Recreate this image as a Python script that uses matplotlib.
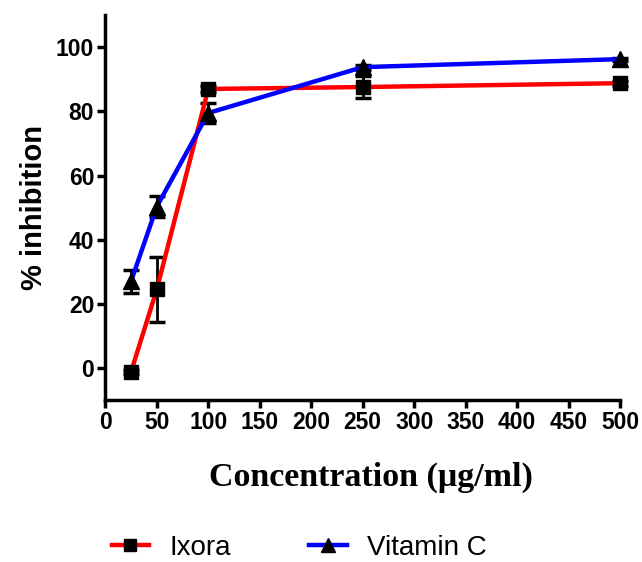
import numpy as np
import matplotlib
matplotlib.use("Agg")
from matplotlib import pyplot as plt

conc = [25, 50, 100, 250, 500]
ixora = [-1.2, 24.5, 87.0, 87.6, 88.8]
ixora_err = [0.5, 10.0, 1.0, 3.5, 0.8]
vitc = [27.0, 50.3, 79.5, 93.8, 96.3]
vitc_err = [3.5, 3.2, 3.0, 0.8, 0.5]
xticks = np.arange(0, 501, 50)
yticks = np.arange(0, 101, 20)

fig = plt.figure(figsize=(6.42, 5.62), dpi=100)
ax = fig.add_axes([0.164, 0.288, 0.802, 0.685])

# error bars first, lines and markers on top
ax.errorbar(conc, ixora, yerr=ixora_err, fmt='none', ecolor='black', elinewidth=2,
            capsize=6, capthick=2.5, clip_on=False, zorder=2)
ax.errorbar(conc, vitc, yerr=vitc_err, fmt='none', ecolor='black', elinewidth=2,
            capsize=6, capthick=2.5, clip_on=False, zorder=2)
l1, = ax.plot(conc, ixora, color='#ff0000', linewidth=3.2, marker='s', markersize=10,
              markerfacecolor='black', markeredgecolor='black', clip_on=False, zorder=3)
l2, = ax.plot(conc, vitc, color='#0000ff', linewidth=3.2, marker='^', markersize=11,
              markerfacecolor='black', markeredgecolor='black', clip_on=False, zorder=4)

ax.set_xlim(0, 500)
ax.set_ylim(-10, 110)
ax.set_xticks(xticks)
ax.set_yticks(yticks)
for s in ['top', 'right']:
    ax.spines[s].set_visible(False)
for s in ['left', 'bottom']:
    ax.spines[s].set_linewidth(2.5)
ax.tick_params(axis='both', width=2.5, length=6, direction='out', pad=2)
for lab in ax.get_xticklabels() + ax.get_yticklabels():
    lab.set_fontfamily('Liberation Sans')
    lab.set_fontweight('bold')
    lab.set_fontsize(16.5)

ax.set_ylabel('% inhibition', fontsize=21, fontweight='bold', family='Liberation Sans', labelpad=6)
ax.set_xlabel('Concentration (\u03bcg/ml)', fontsize=24.5, fontweight='bold',
              family='Liberation Serif', labelpad=20)
ax.xaxis.label.set_x(0.515)

leg = ax.legend([l1, l2], ['Ixora', 'Vitamin C'], loc='center',
                bbox_to_anchor=(0.377, -0.384), ncol=2, frameon=False,
                prop={'family': 'Liberation Sans', 'size': 20}, handlelength=1.35,
                columnspacing=2.8, handletextpad=0.75, markerscale=0.9)

fig.savefig('out.png', dpi=100)
